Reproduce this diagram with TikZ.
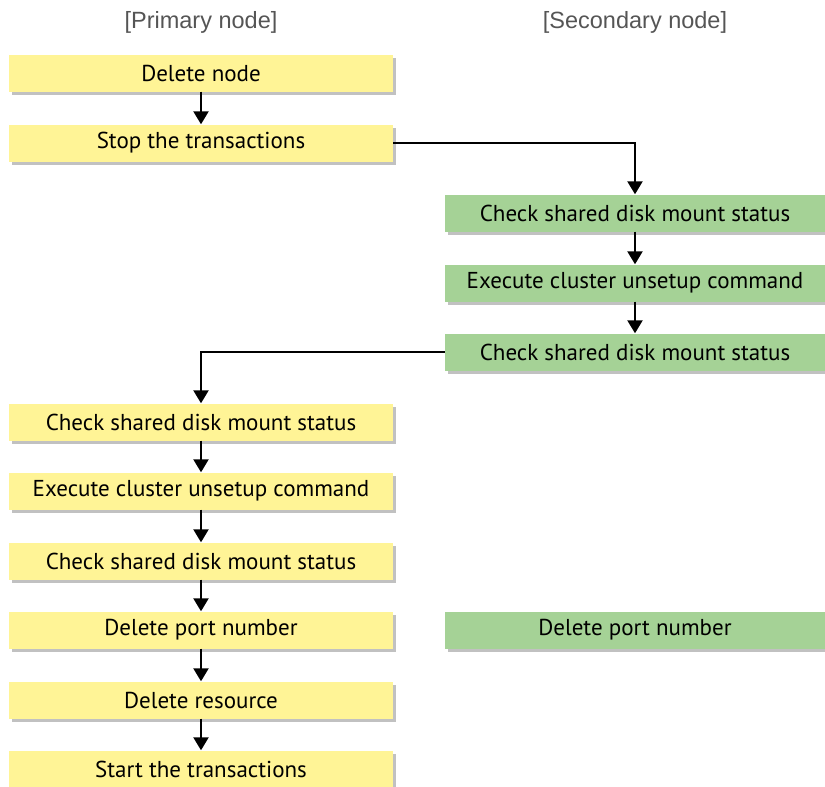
\documentclass[tikz,border=0pt]{standalone}
\usepackage{fontspec}
\setmainfont{PT Sans}
\newfontfamily\ttlfont{Liberation Sans}
\usetikzlibrary{arrows.meta,shadows}
\definecolor{ybox}{RGB}{255,244,150}
\definecolor{gbox}{RGB}{165,210,150}
\definecolor{ttl}{RGB}{85,85,85}
\tikzset{
  box/.style={minimum width=384pt,minimum height=37pt,inner sep=0pt,font=\fontsize{23}{26}\selectfont,text=black,
    drop shadow={shadow xshift=3pt,shadow yshift=-3pt,fill=black!30,opacity=0.8}},
  ybx/.style={box,fill=ybox},
  gbx/.style={box,fill=gbox,minimum width=380pt},
  arr/.style={line width=2.2pt,-{Triangle[width=15pt,length=13pt]}},
  ttlstyle/.style={font=\ttlfont\fontsize{23.5}{27}\selectfont,text=ttl}
}
\begin{document}
\begin{tikzpicture}[x=1pt,y=-1pt]
\useasboundingbox (0,0) rectangle (825,787);
\node[ttlstyle] (t1) at (201,22) {[Primary node]};
\node[ttlstyle] (t2) at (635,22) {[Secondary node]};
\node[ybx] (a1) at (201,73) {Delete node};
\node[ybx] (a2) at (201,143) {Stop the transactions};
\node[gbx] (b1) at (635,213) {Check shared disk mount status};
\node[gbx] (b2) at (635,283) {Execute cluster unsetup command};
\node[gbx] (b3) at (635,352) {Check shared disk mount status};
\node[ybx] (a3) at (201,422) {Check shared disk mount status};
\node[ybx] (a4) at (201,491) {Execute cluster unsetup command};
\node[ybx] (a5) at (201,561) {Check shared disk mount status};
\node[ybx] (a6) at (201,630) {Delete port number};
\node[gbx] (b4) at (635,630) {Delete port number};
\node[ybx] (a7) at (201,700) {Delete resource};
\node[ybx] (a8) at (201,769) {Start the transactions};
\draw[arr] (a1) -- (a2);
\draw[arr] (a2.east) -| (b1.north);
\draw[arr] (b1) -- (b2);
\draw[arr] (b2) -- (b3);
\draw[arr] (b3.west) -| (a3.north);
\draw[arr] (a3) -- (a4);
\draw[arr] (a4) -- (a5);
\draw[arr] (a5) -- (a6);
\draw[arr] (a6) -- (a7);
\draw[arr] (a7) -- (a8);
\end{tikzpicture}
\end{document}
